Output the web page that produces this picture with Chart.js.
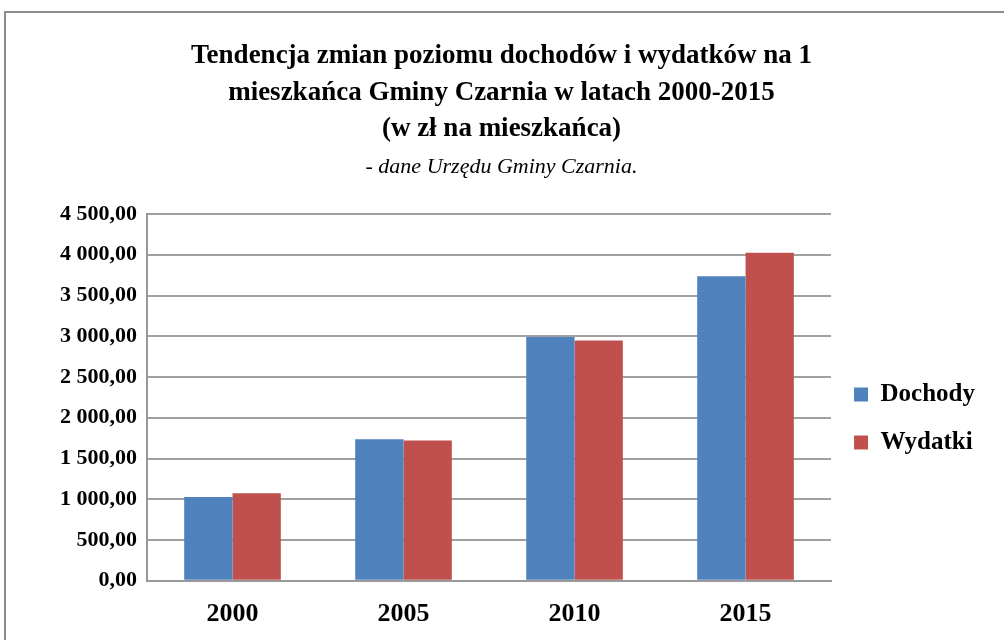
<!DOCTYPE html>
<html>
<head>
<meta charset="utf-8">
<script src="https://cdn.jsdelivr.net/npm/chart.js@4.4.1/dist/chart.umd.min.js"></script>
<style>
    html, body { margin: 0; padding: 0; background: #fff; }
    #wrap { position: relative; width: 1004px; height: 640px; overflow: hidden; }
    #frame { position: absolute; left: 4px; top: 11px; width: 1100px; height: 700px; border: 2px solid #8c8c8c; }
    #chart { position: absolute; left: 0; top: 0; }
</style>
</head>
<body>
<div id="wrap">
    <div id="frame"></div>
    <canvas id="chart" width="1004" height="640"></canvas>
</div>
<script>
const lata = ['2000', '2005', '2010', '2015']
const dochody = [1029, 1738, 2992, 3738]
const wydatki = [1074, 1721, 2947, 4025]
const tytul = [
    'Tendencja zmian poziomu dochodów i wydatków na 1',
    'mieszkańca Gminy Czarnia w latach 2000-2015',
    '(w zł na mieszkańca)'
]
const zrodlo = '- dane Urzędu Gminy Czarnia.'

const serif = "'Liberation Serif', 'DejaVu Serif', serif"

// 4500 -> "4 500,00"
function formatZl(v) {
    let parts = Number(v).toFixed(2).split('.')
    let whole = parts[0].replace(/\B(?=(\d{3})+(?!\d))/g, ' ')
    return whole + ',' + parts[1]
}

const ctx = document.getElementById('chart')
new Chart(ctx, {
    type: 'bar',
    data: {
        labels: lata,
        datasets: [{
                label: 'Dochody',
                data: dochody,
                backgroundColor: '#4f81bd',
                borderWidth: 0
            }, {
                label: 'Wydatki',
                data: wydatki,
                backgroundColor: '#c0504d',
                borderWidth: 0
            }]
    },
    options: {
        responsive: false,
        animation: false,
        layout: {
            padding: { left: 18, right: 19, top: 0, bottom: -8 }
        },
        datasets: {
            bar: { categoryPercentage: 0.565, barPercentage: 1 }
        },
        plugins: {
            title: {
                display: true,
                text: tytul,
                color: '#000',
                font: { family: serif, size: 27, weight: 'bold', lineHeight: 1.35 },
                padding: { top: 38, bottom: 5 }
            },
            subtitle: {
                display: true,
                text: zrodlo,
                color: '#000',
                font: { family: serif, size: 22, style: 'italic', lineHeight: 1.35 },
                padding: { top: 0, bottom: 32 }
            },
            legend: {
                position: 'right',
                // empty title only pushes the two entries down
                title: {
                    display: true,
                    text: ' ',
                    font: { size: 10 },
                    padding: { top: 0, bottom: 177 }
                },
                labels: {
                    color: '#000',
                    font: { family: serif, size: 25, weight: 'bold' },
                    boxWidth: 14,
                    boxHeight: 14,
                    padding: 23
                }
            },
            tooltip: { enabled: false }
        },
        scales: {
            x: {
                grid: { display: false, drawTicks: false },
                border: { display: true, color: '#999', width: 2 },
                ticks: {
                    color: '#000',
                    font: { family: serif, size: 26, weight: 'bold' },
                    padding: 18
                }
            },
            y: {
                min: 0,
                max: 4500,
                afterFit: (scale) => { scale.width = 129 },
                grid: { color: '#a0a0a0', lineWidth: 2, drawTicks: false },
                border: { display: true, color: '#999', width: 2 },
                ticks: {
                    stepSize: 500,
                    color: '#000',
                    font: { family: serif, size: 22, weight: 'bold' },
                    padding: 10,
                    callback: (v) => formatZl(v)
                }
            }
        }
    }
})
</script>
</body>
</html>
